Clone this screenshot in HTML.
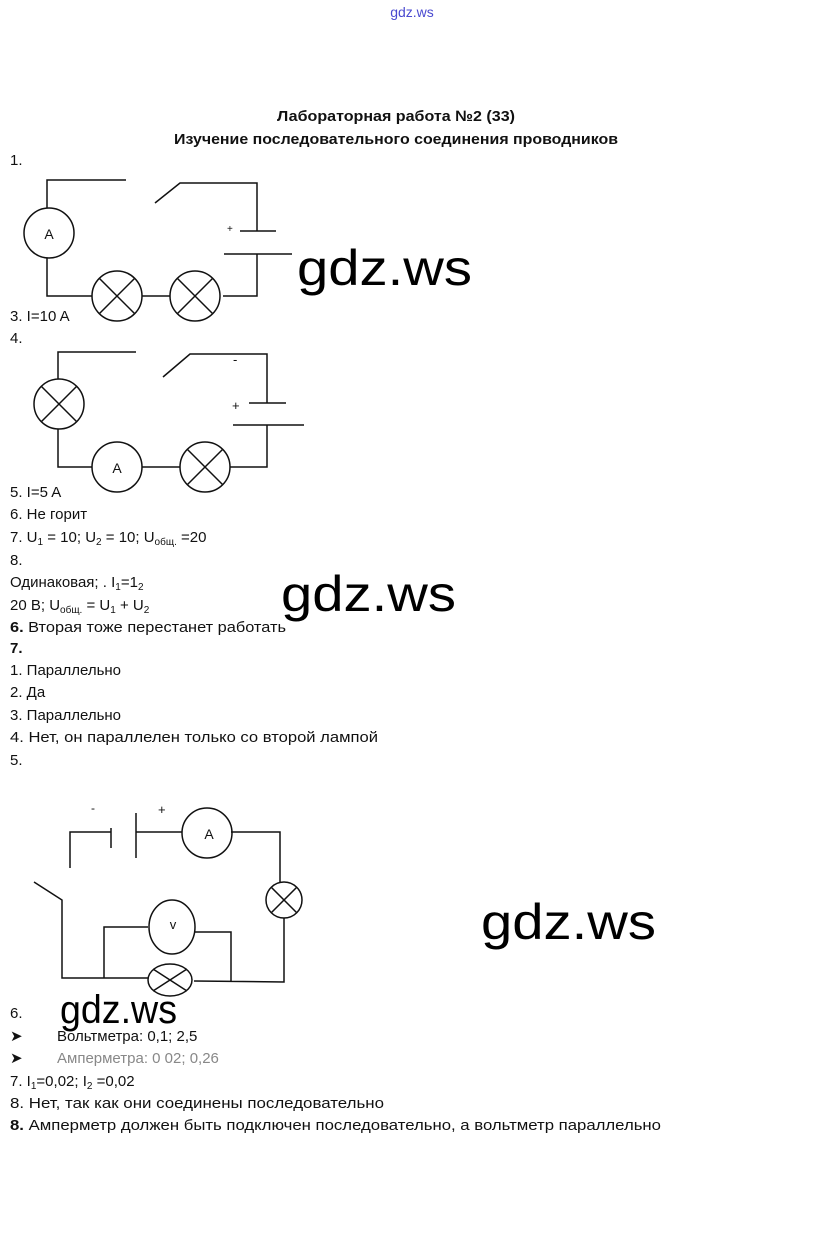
<!DOCTYPE html>
<html><head><meta charset="utf-8"><style>
html,body{margin:0;padding:0;background:#fff;width:823px;height:1243px;overflow:hidden}
svg{display:block}
text{font-family:"Liberation Sans","DejaVu Sans",sans-serif;fill:#111}
.t{font-size:15px}
.b{font-weight:bold}
.w{font-size:50px;fill:#000}
.s{font-size:10px}
</style></head><body>
<svg width="823" height="1243" viewBox="0 0 823 1243" xmlns="http://www.w3.org/2000/svg">
<text x="412" y="17" text-anchor="middle" style="font-size:14px;fill:#4a4ad0">gdz.ws</text>
<text x="396" y="121" text-anchor="middle" class="t b" textLength="238" lengthAdjust="spacingAndGlyphs">Лабораторная работа №2 (33)</text>
<text x="396" y="144" text-anchor="middle" class="t b" textLength="444" lengthAdjust="spacingAndGlyphs">Изучение последовательного соединения проводников</text>

<g fill="none" stroke="#111" stroke-width="1.5">
<path d="M47 208V180H126M155 203L180 183H257V231M240 231H276M224 254H292M257 254V296H223M47 258V296H92M142 296H170"/>
<circle cx="49" cy="233" r="25"/>
<circle cx="117" cy="296" r="25"/><path d="M99 278L135 314M135 278L99 314"/>
<circle cx="195" cy="296" r="25"/><path d="M177 278L213 314M213 278L177 314"/>
<path d="M58 379V352H136M163 377L190 354H267V403M249 403H286M233 425H304M267 425V467H230M180 467H142M92 467H58V429"/>
<circle cx="59" cy="404" r="25"/><path d="M41 386L77 422M77 386L41 422"/>
<circle cx="117" cy="467" r="25"/>
<circle cx="205" cy="467" r="25"/><path d="M187 449L223 485M223 449L187 485"/>
<path d="M70 868V832H111M111 828V848M136 813V858M136 832H182M231 832H280V882M284 918V982L194 981M148 978H62V900L34 882M104 978V927H148M194 932H231V982"/>
<circle cx="207" cy="833" r="25"/>
<circle cx="284" cy="900" r="18"/><path d="M271 887L297 913M297 887L271 913"/>
<ellipse cx="172" cy="927" rx="23" ry="27"/>
<ellipse cx="170" cy="980" rx="22" ry="16"/><path d="M153 969L187 991M187 969L153 991"/>
</g>
<text x="49" y="239" text-anchor="middle" style="font-size:14px">A</text>
<text x="227" y="232" style="font-size:10px">+</text>
<text x="117" y="473" text-anchor="middle" style="font-size:14px">A</text>
<text x="233" y="364" style="font-size:13px">-</text>
<text x="232" y="410" style="font-size:13px">+</text>
<text x="209" y="839" text-anchor="middle" style="font-size:14px">A</text>
<text x="173" y="929" text-anchor="middle" style="font-size:13px">v</text>
<text x="91" y="812" style="font-size:12px">-</text>
<text x="158" y="814" style="font-size:13px">+</text>

<g class="t">
<text x="10" y="165">1.</text>
<text x="10" y="321">3. I=10 A</text>
<text x="10" y="343">4.</text>
<text x="10" y="497">5. I=5 A</text>
<text x="10" y="519">6.  Не горит</text>
<text x="10" y="542">7. U<tspan class="s" dy="3">1</tspan><tspan dy="-3"> = 10; U</tspan><tspan class="s" dy="3">2</tspan><tspan dy="-3"> = 10; U</tspan><tspan class="s" dy="3">общ.</tspan><tspan dy="-3"> =20</tspan></text>
<text x="10" y="565">8.</text>
<text x="10" y="587">Одинаковая; . I<tspan class="s" dy="3">1</tspan><tspan dy="-3">=1</tspan><tspan class="s" dy="3">2</tspan></text>
<text x="10" y="610">20 В; U<tspan class="s" dy="3">общ.</tspan><tspan dy="-3"> = U</tspan><tspan class="s" dy="3">1</tspan><tspan dy="-3"> + U</tspan><tspan class="s" dy="3">2</tspan></text>
<text x="10" y="632" textLength="276" lengthAdjust="spacingAndGlyphs"><tspan class="b">6.</tspan> Вторая тоже перестанет работать</text>
<text x="10" y="653" class="b">7.</text>
<text x="10" y="675">1. Параллельно</text>
<text x="10" y="697">2. Да</text>
<text x="10" y="720">3. Параллельно</text>
<text x="10" y="742" textLength="368" lengthAdjust="spacingAndGlyphs">4. Нет, он параллелен только со второй лампой</text>
<text x="10" y="765">5.</text>
<text x="10" y="1018">6.</text>
<text x="10" y="1041">➤</text><text x="57" y="1041">Вольтметра: 0,1;  2,5</text>
<text x="10" y="1063">➤</text><text x="57" y="1063" style="fill:#888">Амперметра: 0 02; 0,26</text>
<text x="10" y="1086">7.  I<tspan class="s" dy="3">1</tspan><tspan dy="-3">=0,02; I</tspan><tspan class="s" dy="3">2</tspan><tspan dy="-3"> =0,02</tspan></text>
<text x="10" y="1108" textLength="374" lengthAdjust="spacingAndGlyphs">8.  Нет, так как они соединены последовательно</text>
<text x="10" y="1130" textLength="651" lengthAdjust="spacingAndGlyphs"><tspan class="b">8.</tspan> Амперметр должен быть подключен последовательно, а вольтметр параллельно</text>
</g>

<text x="297" y="285" class="w" textLength="175" lengthAdjust="spacingAndGlyphs">gdz.ws</text>
<text x="281" y="611" class="w" textLength="175" lengthAdjust="spacingAndGlyphs">gdz.ws</text>
<text x="481" y="939" class="w" textLength="175" lengthAdjust="spacingAndGlyphs">gdz.ws</text>
<text x="60" y="1023" style="font-size:40px;fill:#000" textLength="117" lengthAdjust="spacingAndGlyphs">gdz.ws</text>
</svg>
</body></html>
